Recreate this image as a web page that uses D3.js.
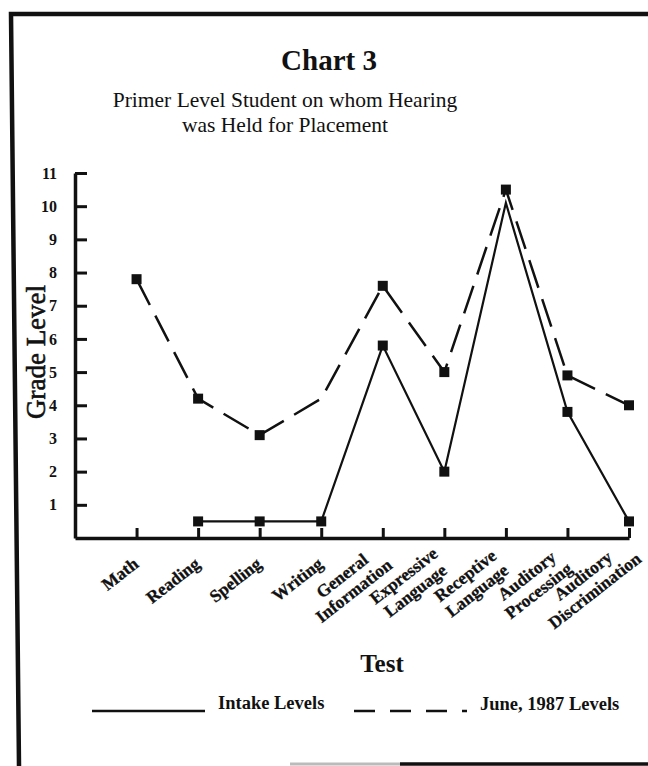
<!DOCTYPE html>
<html>
<head>
<meta charset="utf-8">
<script src="https://cdn.jsdelivr.net/npm/d3@7"></script>
<style>
  html, body { margin: 0; padding: 0; background: #fff; }
  svg { display: block; }
</style>
</head>
<body>
<svg id="chart" width="648" height="766"></svg>
<script>
// ---- data ----
const categories = [
  ["Math"], ["Reading"], ["Spelling"], ["Writing"],
  ["General", "Information"], ["Expressive", "Language"],
  ["Receptive", "Language"], ["Auditory", "Processing"],
  ["Auditory", "Discrimination"]
];
const intakeLevels = [null, 0.5, 0.5, 0.5, 5.8, 2.0, 10.1, 3.8, 0.5];
const june1987Levels = [7.8, 4.2, 3.1, 4.2, 7.6, 5.0, 10.5, 4.9, 4.0];
// points drawn without a square marker in the original
const intakeUnmarked = [6];
const juneUnmarked = [3];
const yTicks = [1, 2, 3, 4, 5, 6, 7, 8, 9, 10, 11];
const titleText = "Chart 3";
const subtitleLines = ["Primer Level Student on whom Hearing", "was Held for Placement"];
const yTitle = "Grade Level";
const xTitle = "Test";
const legendLabels = ["Intake Levels", "June, 1987 Levels"];

// ---- drawing ----
const svg = d3.select("#chart");
const serif = "'Liberation Serif', 'Times New Roman', serif";
const ink = "#111";
const W = 648;

const x = d3.scaleLinear().domain([-1, categories.length - 1]).range([75, 629]);
const y = d3.scaleLinear().domain([0, 11]).range([538, 173]);

// frame (scanned page border)
svg.append("path")
  .attr("d", "M648,14 L11,14 L19,766")
  .attr("fill", "none").attr("stroke", ink).attr("stroke-width", 4.5);
svg.append("line").attr("x1", 290).attr("x2", 400).attr("y1", 764).attr("y2", 764)
  .attr("stroke", "#bbb").attr("stroke-width", 3);
svg.append("line").attr("x1", 400).attr("x2", 648).attr("y1", 764).attr("y2", 764)
  .attr("stroke", ink).attr("stroke-width", 3.5);

// titles
svg.append("text").attr("x", 329).attr("y", 70)
  .attr("text-anchor", "middle").attr("font-family", serif)
  .attr("font-weight", "bold").attr("font-size", 29).attr("fill", ink)
  .text(titleText);
subtitleLines.forEach((t, i) => {
  svg.append("text").attr("x", 285).attr("y", 107 + i * 25)
    .attr("text-anchor", "middle").attr("font-family", serif)
    .attr("font-size", 21.5).attr("fill", ink).text(t);
});

// y axis
const yAxis = d3.axisLeft(y).tickValues(yTicks)
  .tickSizeInner(-12).tickSizeOuter(0).tickPadding(18)
  .tickFormat(d3.format("d"));
const gy = svg.append("g").attr("transform", "translate(75,0)").call(yAxis);
gy.select(".domain").attr("stroke", ink).attr("stroke-width", 3.5);
gy.selectAll(".tick line").attr("stroke", ink).attr("stroke-width", 3);
gy.selectAll(".tick text").attr("font-family", serif).attr("font-weight", "bold")
  .attr("font-size", 16).attr("fill", ink);

// x axis
const xAxis = d3.axisBottom(x).tickValues(d3.range(categories.length))
  .tickSizeInner(-10).tickSizeOuter(0).tickFormat("");
const gx = svg.append("g").attr("transform", "translate(0,538)").call(xAxis);
gx.select(".domain").attr("stroke", ink).attr("stroke-width", 3.5);
gx.selectAll(".tick line").attr("stroke", ink).attr("stroke-width", 3);

// category labels (rotated)
const lab = svg.append("g").attr("font-family", serif).attr("font-weight", "bold")
  .attr("font-size", 17.5).attr("fill", ink)
  .attr("stroke", ink).attr("stroke-width", 0.3);
categories.forEach((lines, i) => {
  const cx = x(i);
  if (lines.length === 1) {
    lab.append("text")
      .attr("transform", `translate(${cx + 3},566) rotate(-38)`)
      .attr("text-anchor", "end").text(lines[0]);
  } else {
    const outer = lab.append("g");
    const g = outer.append("g").attr("transform", `translate(${cx - 35},583) rotate(-38)`);
    lines.forEach((t, j) => {
      g.append("text").attr("x", 0).attr("y", (j - 0.5) * 19)
        .attr("dy", "0.35em").attr("text-anchor", "middle").text(t);
    });
    // keep the label inside the page
    const r = outer.node().getBoundingClientRect();
    const over = r.right - (W - 3);
    if (over > 0) outer.attr("transform", `translate(${-over},0)`);
  }
});

// axis titles
svg.append("text")
  .attr("transform", "translate(45,352) rotate(-90)")
  .attr("text-anchor", "middle").attr("font-family", serif)
  .attr("font-size", 27).attr("fill", ink)
  .attr("stroke", ink).attr("stroke-width", 0.6).text(yTitle);
svg.append("text").attr("x", 382).attr("y", 672)
  .attr("text-anchor", "middle").attr("font-family", serif)
  .attr("font-weight", "bold").attr("font-size", 25).attr("fill", ink).text(xTitle);

// lines
const line = d3.line().defined(d => d.v != null).x(d => x(d.i)).y(d => y(d.v));
const intakeData = intakeLevels.map((v, i) => ({ i, v }));
const juneData = june1987Levels.map((v, i) => ({ i, v }));

svg.append("path").datum(juneData).attr("d", line)
  .attr("fill", "none").attr("stroke", ink).attr("stroke-width", 2.5)
  .attr("stroke-dasharray", "29,12");
svg.append("path").datum(intakeData).attr("d", line)
  .attr("fill", "none").attr("stroke", ink).attr("stroke-width", 2.2);

// markers
const ms = 10;
function markers(data, unmarked) {
  svg.append("g").selectAll("rect")
    .data(data.filter(d => d.v != null && !unmarked.includes(d.i)))
    .join("rect")
    .attr("x", d => x(d.i) - ms / 2).attr("y", d => y(d.v) - ms / 2)
    .attr("width", ms).attr("height", ms).attr("fill", ink);
}
markers(juneData, juneUnmarked);
markers(intakeData, intakeUnmarked);

// legend
const leg = svg.append("g");
leg.append("line").attr("x1", 92).attr("x2", 205).attr("y1", 711).attr("y2", 711)
  .attr("stroke", ink).attr("stroke-width", 2.5);
leg.append("text").attr("x", 218).attr("y", 709).attr("font-family", serif)
  .attr("font-weight", "bold").attr("font-size", 18.5).attr("fill", ink).text(legendLabels[0]);
leg.append("line").attr("x1", 354).attr("x2", 467).attr("y1", 711).attr("y2", 711)
  .attr("stroke", ink).attr("stroke-width", 2.5).attr("stroke-dasharray", "21,15");
leg.append("text").attr("x", 480).attr("y", 710).attr("font-family", serif)
  .attr("font-weight", "bold").attr("font-size", 18.5).attr("fill", ink).text(legendLabels[1]);
</script>
</body>
</html>
